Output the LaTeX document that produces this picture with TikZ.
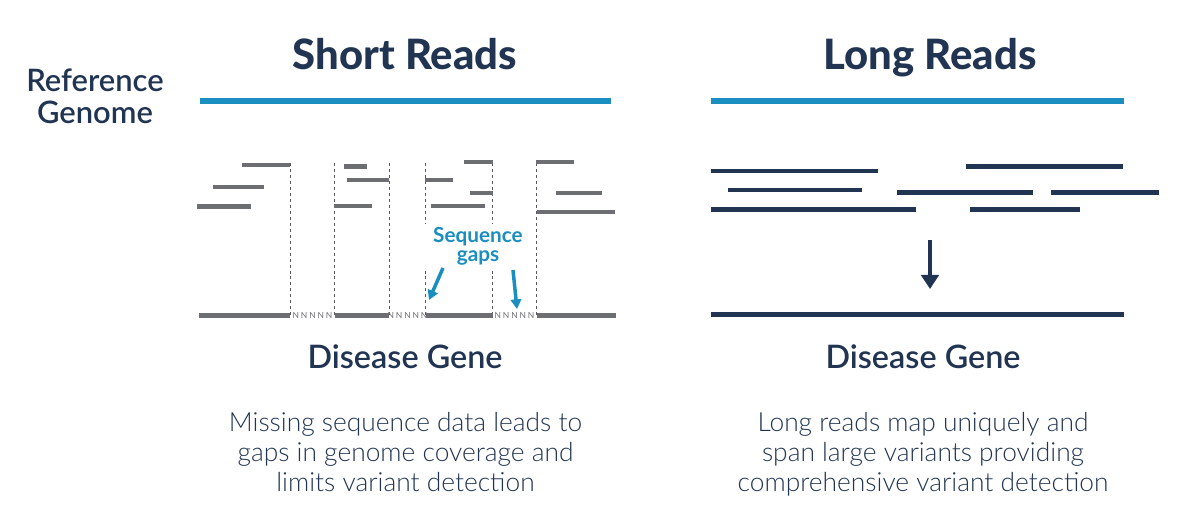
\documentclass[tikz,border=0pt]{standalone}
\usepackage{fontspec}
\setmainfont{Lato}
\newfontfamily\latoheavy{Lato Heavy}
\newfontfamily\latosemi{Lato Semibold}
\newfontfamily\latolight{Lato Light}
\newfontfamily\latogap{Lato}[LetterSpace=22]
\usetikzlibrary{arrows.meta}
\definecolor{navy}{HTML}{213553}
\definecolor{refblue}{HTML}{1B8EC0}
\definecolor{readgray}{HTML}{6D6E71}
\definecolor{dashgray}{HTML}{58595B}

\begin{document}
\begin{tikzpicture}
[x = 0.02cm, y = -0.02cm,
 refline/.style = {draw = refblue, line width = 2.9pt},
 sread/.style = {draw = readgray, line width = 2.8pt},
 lread/.style = {draw = navy, line width = 2.8pt},
 cut/.style = {draw = dashgray, line width = 0.5pt, dash pattern = on 1.7pt off 1.7pt},
 title/.style = {anchor = base, text = navy, font = \latoheavy\fontsize{23.8}{28}\selectfont},
 gene/.style = {anchor = base, text = navy, font = \latosemi\fontsize{18.4}{20}\selectfont},
 desc/.style = {anchor = base, text = navy, align = center, font = \latolight\fontsize{15}{17}\selectfont},
 nnn/.style = {text = readgray, inner sep = 0pt, font = \latogap\fontsize{4.8}{5}\selectfont},
 gaparrow/.style = {draw = refblue, line width = 2pt, -{Triangle[length = 5.5pt, width = 6pt]}}
 ]
\useasboundingbox (0,0) rectangle (1201,527);

% titles
\node [title] (shorttitle) at (405,69.5) {Short Reads};
\node [title] (longtitle) at (930,69.5) {Long Reads};
\node [anchor = base, text = navy, align = center, font = \latosemi\fontsize{17.6}{18}\selectfont] (refgenome) at (95,123.5) {Reference\\Genome};

% reference genome
\draw [refline] (200,101) -- (611,101);
\draw [refline] (711,101) -- (1124,101);

% breakpoints
\draw [cut] (290,163) -- (290,318);
\draw [cut] (334,163) -- (334,318);
\draw [cut] (389,163) -- (389,318);
\draw [cut] (425,163) -- (425,318);
\draw [cut] (492.5,163) -- (492.5,318);
\draw [cut] (536,163) -- (536,318);

% short reads
\draw [sread] (242,165) -- (290,165);
\draw [sread] (213,187) -- (264,187);
\draw [sread] (197,206.5) -- (251,206.5);
\draw [sread] (344,166.5) -- (367,166.5);
\draw [sread] (347,180) -- (389,180);
\draw [sread] (334,206) -- (372,206);
\draw [sread] (425,180) -- (453,180);
\draw [sread] (464,162) -- (493,162);
\draw [sread] (470,193) -- (493,193);
\draw [sread] (431,206) -- (485,206);
\draw [sread] (536,162) -- (574,162);
\draw [sread] (556,193) -- (602,193);
\draw [sread] (537,212) -- (615,212);

% assembled short read gene
\draw [sread] (199,315.5) -- (290,315.5);
\draw [sread] (335,315.5) -- (389,315.5);
\draw [sread] (426,315.5) -- (492.5,315.5);
\draw [sread] (537,315.5) -- (616,315.5);
\node [nnn] (gapone) at (312.5,315.5) {NNNNN};
\node [nnn] (gaptwo) at (407.5,315.5) {NNNNN};
\node [nnn] (gapthree) at (514.5,315.5) {NNNNN};

% sequence gaps label
\node [fill = white, minimum width = 2.16cm, minimum height = 0.9cm, inner sep = 0pt, text = refblue, align = center, font = \bfseries\fontsize{11.8}{10.6}\selectfont] (seqgaps) at (478,246) {Sequence\\gaps};
\coordinate (gaponetail) at (443,268);
\coordinate (gaponetip) at (429,300);
\coordinate (gaptwotail) at (513,270);
\coordinate (gaptwotip) at (517,309);
\draw [gaparrow] (gaponetail) -- (gaponetip);
\draw [gaparrow] (gaptwotail) -- (gaptwotip);

% long reads
\draw [lread] (711,171) -- (878,171);
\draw [lread] (728,190) -- (862,190);
\draw [lread] (711,209.5) -- (916,209.5);
\draw [lread] (966,166.5) -- (1123,166.5);
\draw [lread] (897,192.5) -- (1033,192.5);
\draw [lread] (1051,192.5) -- (1159,192.5);
\draw [lread] (970,209.5) -- (1080,209.5);

\coordinate (mergetop) at (930,240);
\coordinate (mergebot) at (930,289);
\draw [draw = navy, line width = 1.8pt, -{Triangle[length = 8pt, width = 10pt]}] (mergetop) -- (mergebot);
\draw [lread] (711,314.5) -- (1124,314.5);

% genes and notes
\node [gene] (shortgene) at (405,368) {Disease Gene};
\node [gene] (longgene) at (923,368) {Disease Gene};
\node [desc] (shortdesc) at (405.5,491) {Missing sequence data leads to\\gaps in genome coverage and\\limits variant detection};
\node [desc] (longdesc) at (923,491) {Long reads map uniquely and\\span large variants providing\\comprehensive variant detection};
\end{tikzpicture}
\end{document}
